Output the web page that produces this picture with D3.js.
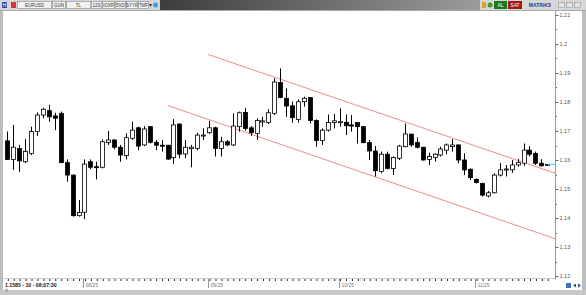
<!DOCTYPE html>
<html>
<head>
<meta charset="utf-8">
<script src="https://cdn.jsdelivr.net/npm/d3@7"></script>
<style>
  body { margin: 0; background: #fff; }
  svg { display: block; font-family: 'Liberation Sans', Arial, sans-serif; }
</style>
</head>
<body>
<script>
// EURUSD daily candles, 15 Jul .. 18 Nov
let open = [1.1666,1.1602,1.1640,1.1594,1.1623,1.1698,1.1755,1.1770,1.1752,1.1761,
  1.1591,1.1548,1.1408,1.1420,1.1594,1.1577,1.1575,1.1660,1.1669,1.1644,
  1.1615,1.1675,1.1711,1.1652,1.1715,1.1661,1.1651,1.1651,1.1608,1.1724,
  1.1621,1.1639,1.1640,1.1683,1.1694,1.1711,1.1640,1.1663,1.1652,1.1715,
  1.1764,1.1711,1.1692,1.1731,1.1729,1.1761,1.1867,1.1813,1.1787,1.1740,
  1.1801,1.1815,1.1736,1.1667,1.1703,1.1729,1.1730,1.1730,1.1721,1.1729,
  1.1715,1.1660,1.1631,1.1560,1.1620,1.1571,1.1606,1.1646,1.1689,1.1660,
  1.1644,1.1602,1.1609,1.1617,1.1634,1.1646,1.1652,1.1600,1.1568,1.1533,
  1.1519,1.1476,1.1487,1.1548,1.1566,1.1566,1.1583,1.1589,1.1634,1.1623,
  1.1589,1.1583];
let high = [1.1698,1.1721,1.1652,1.1672,1.1715,1.1764,1.1780,1.1790,1.1763,1.1767,
  1.1602,1.1550,1.1462,1.1602,1.1602,1.1594,1.1671,1.1700,1.1672,1.1652,
  1.1692,1.1732,1.1715,1.1717,1.1717,1.1669,1.1669,1.1652,1.1741,1.1726,
  1.1669,1.1652,1.1694,1.1709,1.1735,1.1715,1.1680,1.1669,1.1761,1.1767,
  1.1780,1.1717,1.1744,1.1749,1.1775,1.1882,1.1916,1.1847,1.1801,1.1809,
  1.1818,1.1816,1.1740,1.1709,1.1757,1.1759,1.1778,1.1757,1.1755,1.1730,
  1.1717,1.1669,1.1648,1.1629,1.1629,1.1612,1.1652,1.1726,1.1691,1.1678,
  1.1645,1.1625,1.1623,1.1646,1.1657,1.1672,1.1653,1.1623,1.1571,1.1537,
  1.1522,1.1493,1.1554,1.1589,1.1583,1.1600,1.1603,1.1657,1.1648,1.1629,
  1.1603,1.1586];
let low = [1.1600,1.1566,1.1558,1.1589,1.1617,1.1683,1.1744,1.1732,1.1703,1.1589,
  1.1525,1.1405,1.1405,1.1396,1.1568,1.1533,1.1571,1.1652,1.1637,1.1594,
  1.1602,1.1669,1.1634,1.1648,1.1657,1.1634,1.1629,1.1602,1.1586,1.1606,
  1.1606,1.1575,1.1634,1.1669,1.1690,1.1612,1.1612,1.1648,1.1648,1.1698,
  1.1701,1.1683,1.1669,1.1715,1.1724,1.1755,1.1813,1.1749,1.1729,1.1729,
  1.1784,1.1726,1.1646,1.1652,1.1698,1.1709,1.1715,1.1686,1.1698,1.1657,
  1.1657,1.1600,1.1543,1.1554,1.1568,1.1548,1.1600,1.1644,1.1646,1.1640,
  1.1598,1.1583,1.1594,1.1612,1.1620,1.1629,1.1589,1.1548,1.1531,1.1519,
  1.1474,1.1471,1.1485,1.1543,1.1543,1.1556,1.1577,1.1580,1.1612,1.1583,
  1.1577,1.1580];
let close = [1.1602,1.1644,1.1597,1.1629,1.1698,1.1755,1.1775,1.1749,1.1744,1.1591,
  1.1548,1.1408,1.1419,1.1586,1.1575,1.1575,1.1663,1.1669,1.1644,1.1617,
  1.1677,1.1703,1.1648,1.1707,1.1661,1.1651,1.1648,1.1603,1.1721,1.1620,
  1.1644,1.1644,1.1686,1.1686,1.1711,1.1640,1.1663,1.1652,1.1717,1.1763,
  1.1709,1.1694,1.1736,1.1735,1.1763,1.1869,1.1816,1.1786,1.1746,1.1801,
  1.1813,1.1736,1.1667,1.1703,1.1729,1.1735,1.1732,1.1718,1.1717,1.1715,
  1.1660,1.1631,1.1563,1.1620,1.1571,1.1609,1.1648,1.1690,1.1652,1.1644,
  1.1600,1.1612,1.1620,1.1638,1.1652,1.1652,1.1600,1.1566,1.1539,1.1522,
  1.1479,1.1487,1.1548,1.1566,1.1569,1.1583,1.1591,1.1634,1.1620,1.1589,
  1.1580,1.1585];

// month labels and the candle they start on
let monthLabels = ['08/25', '09/25', '10/25', '11/25'];
let monthIndex = [13, 34, 56, 79];

let priceTicks = [1.12, 1.13, 1.14, 1.15, 1.16, 1.17, 1.18, 1.19, 1.2, 1.21];
let priceLabels = ['1.12', '1.13', '1.14', '1.15', '1.16', '1.17', '1.18', '1.19', '1.2', '1.21'];

// trend channel drawn on the chart: [candle index, price]
let upperLine = [[33.85, 1.19638], [92.36, 1.15541]];
let lowerLine = [[27.03, 1.17879], [92.36, 1.13283]];

let lastPrice = 1.1585;
let statusText = '1.1585 - 10 - 08:07:30';

let width = 586;
let height = 295;

let svg = d3.select('body')
  .append('svg')
  .attr('width', width)
  .attr('height', height);

//scales
let x = d3.scaleLinear()
  .domain([0, open.length - 1])
  .range([7.3, 547.3]);
let y = d3.scaleLinear()
  .domain([1.12, 1.21])
  .range([276, 15]);

// frame
svg.append('rect').attr('x', 0).attr('y', 0).attr('width', width).attr('height', height).attr('fill', '#fff');
svg.append('rect').attr('x', 0).attr('y', 0).attr('width', 3).attr('height', height).attr('fill', '#bdbdbd');
svg.append('rect').attr('x', 582).attr('y', 0).attr('width', 4).attr('height', height).attr('fill', '#bdbdbd');
svg.append('rect').attr('x', 0).attr('y', 290).attr('width', width).attr('height', 5).attr('fill', '#c8c8c8');

// channel
let chLine = d3.line()
  .x(function (d) { return x(d[0]); })
  .y(function (d) { return y(d[1]); });
[upperLine, lowerLine].forEach(function (l) {
  svg.append('path')
    .attr('d', chLine(l))
    .attr('fill', 'none')
    .attr('stroke', '#f28b8b')
    .attr('stroke-width', 1);
});

// candles
let candles = svg.append('g');
let idx = d3.range(open.length);
candles.selectAll('line.wick')
  .data(idx)
  .enter().append('line')
  .attr('class', 'wick')
  .attr('x1', function (i) { return Math.round(x(i)) + 0.5; })
  .attr('x2', function (i) { return Math.round(x(i)) + 0.5; })
  .attr('y1', function (i) { return y(high[i]); })
  .attr('y2', function (i) { return y(low[i]); })
  .attr('stroke', '#000')
  .attr('stroke-width', 1);
candles.selectAll('rect.body')
  .data(idx)
  .enter().append('rect')
  .attr('class', 'body')
  .attr('x', function (i) { return Math.round(x(i)) - 1.5; })
  .attr('width', 4)
  .attr('y', function (i) { return y(Math.max(open[i], close[i])); })
  .attr('height', function (i) { return Math.max(1, Math.abs(y(open[i]) - y(close[i]))); })
  .attr('fill', function (i) { return close[i] >= open[i] ? '#fff' : '#000'; })
  .attr('stroke', '#000')
  .attr('stroke-width', 0.8);

// last price marker
svg.append('line')
  .attr('x1', 548).attr('x2', 555)
  .attr('y1', y(lastPrice)).attr('y2', y(lastPrice))
  .attr('stroke', '#3fd0e0').attr('stroke-width', 1);

// right axis
let yAxis = d3.axisRight(y)
  .tickValues(priceTicks)
  .tickSize(3)
  .tickFormat(function (d, i) { return priceLabels[i]; });
let yg = svg.append('g')
  .attr('transform', 'translate(555.5,0)')
  .call(yAxis);
yg.select('.domain').attr('stroke', '#9a9a9a').attr('d', 'M0,11V279');
yg.selectAll('.tick line').attr('stroke', '#666');
yg.selectAll('.tick text').attr('font-size', 5.5).attr('font-family', 'Liberation Sans, Arial, sans-serif').attr('fill', '#555').attr('x', 4);
let minor = d3.range(1.125, 1.21, 0.01);
svg.append('g').selectAll('line')
  .data(minor)
  .enter().append('line')
  .attr('x1', 556).attr('x2', 557)
  .attr('y1', function (d) { return Math.round(y(d)) + 0.5; })
  .attr('y2', function (d) { return Math.round(y(d)) + 0.5; })
  .attr('stroke', '#666');

// bottom axis
svg.append('line').attr('x1', 3).attr('x2', 555).attr('y1', 278.5).attr('y2', 278.5).attr('stroke', '#cfcfcf');
let xAxis = d3.axisBottom(x)
  .tickValues(idx)
  .tickSize(2)
  .tickFormat('');
let xg = svg.append('g')
  .attr('transform', 'translate(0.5,279)')
  .call(xAxis);
xg.select('.domain').remove();
xg.selectAll('.tick line').attr('stroke', '#222');

let months = svg.append('g');
monthIndex.forEach(function (m, i) {
  let px = Math.round(x(m)) - 0.5;
  months.append('line')
    .attr('x1', px).attr('x2', px)
    .attr('y1', 279).attr('y2', 288)
    .attr('stroke', '#999');
  months.append('text')
    .attr('x', px + 2).attr('y', 287)
    .attr('font-size', 5)
    .attr('fill', '#777')
    .text(monthLabels[i]);
});

svg.append('text')
  .attr('x', 5).attr('y', 286.5)
  .attr('font-size', 5.2)
  .attr('font-weight', 'bold')
  .attr('fill', '#111')
  .text(statusText);
svg.append('text')
  .attr('x', 5).attr('y', 290.5)
  .attr('font-size', 3.5)
  .attr('fill', '#555')
  .text('a|');

// toolbar
let bar = svg.append('g');
let grad = svg.append('defs').append('linearGradient').attr('id', 'tb');
grad.append('stop').attr('offset', '0%').attr('stop-color', '#3c3c3c');
grad.append('stop').attr('offset', '100%').attr('stop-color', '#9c9c9c');
bar.append('rect').attr('x', 0).attr('y', 0).attr('width', width).attr('height', 10).attr('fill', '#d6d6d6');
bar.append('rect').attr('x', 160).attr('y', 0).attr('width', 320).attr('height', 10).attr('fill', 'url(#tb)');
bar.append('rect').attr('x', 0).attr('y', 10).attr('width', width).attr('height', 1).attr('fill', '#a8a8a8');

let boxes = [
  { x: 17, w: 34, t: 'EURUSD' },
  { x: 52, w: 13, t: 'GUN' },
  { x: 66, w: 24, t: 'TL' },
  { x: 91, w: 10, t: '12S' },
  { x: 102, w: 12, t: 'IOXR' },
  { x: 115, w: 10, t: '5VD' },
  { x: 126, w: 11, t: 'SYYF' },
  { x: 138, w: 10, t: 'TMF' }
];
boxes.forEach(function (b) {
  bar.append('rect').attr('x', b.x + 0.5).attr('y', 1.5).attr('width', b.w).attr('height', 7)
    .attr('fill', '#f2f2f2').attr('stroke', '#8a8a8a').attr('stroke-width', 0.6);
  bar.append('text').attr('x', b.x + b.w / 2 + 0.5).attr('y', 7.3)
    .attr('text-anchor', 'middle').attr('font-size', 4.5).attr('fill', '#333').text(b.t);
});
bar.append('rect').attr('x', 2).attr('y', 2).attr('width', 5).attr('height', 6).attr('fill', '#2b4fa8');
bar.append('text').attr('x', 4.5).attr('y', 7).attr('text-anchor', 'middle').attr('font-size', 5).attr('fill', '#fff').text('H');
bar.append('rect').attr('x', 11).attr('y', 2).attr('width', 5).attr('height', 6).attr('fill', '#d33');
bar.append('path').attr('d', 'M149,4L152,4L150.5,7Z').attr('fill', '#333');
bar.append('circle').attr('cx', 155.5).attr('cy', 5).attr('r', 2.5).attr('fill', '#3aa0e8');

bar.append('rect').attr('x', 482).attr('y', 2).attr('width', 4).attr('height', 6).attr('fill', '#e0a020');
bar.append('circle').attr('cx', 490).attr('cy', 5).attr('r', 2.5).attr('fill', '#3a9a3a');
bar.append('rect').attr('x', 494).attr('y', 1).attr('width', 13).attr('height', 8).attr('fill', '#1e7a1e');
bar.append('text').attr('x', 500.5).attr('y', 7).attr('text-anchor', 'middle').attr('font-size', 5).attr('fill', '#fff').text('AL');
bar.append('rect').attr('x', 508).attr('y', 1).attr('width', 14).attr('height', 8).attr('fill', '#a01818');
bar.append('text').attr('x', 515).attr('y', 7).attr('text-anchor', 'middle').attr('font-size', 5).attr('fill', '#fff').text('SAT');
bar.append('text').attr('x', 540).attr('y', 7).attr('text-anchor', 'middle').attr('font-size', 5).attr('font-weight', 'bold').attr('fill', '#2a3a8a').text('MATRiKS');
[558, 566, 574].forEach(function (bx) {
  bar.append('rect').attr('x', bx + 0.5).attr('y', 2.5).attr('width', 6).attr('height', 5)
    .attr('fill', '#e4e4e4').attr('stroke', '#999').attr('stroke-width', 0.6);
});

// bottom right buttons
svg.append('rect').attr('x', 566).attr('y', 283).attr('width', 5).attr('height', 5).attr('fill', '#3a70c0');
svg.append('path').attr('d', 'M573,285.5L576,283.5L576,287.5Z M581,285.5L578,283.5L578,287.5Z').attr('fill', '#2a4a9a');
</script>
</body>
</html>
